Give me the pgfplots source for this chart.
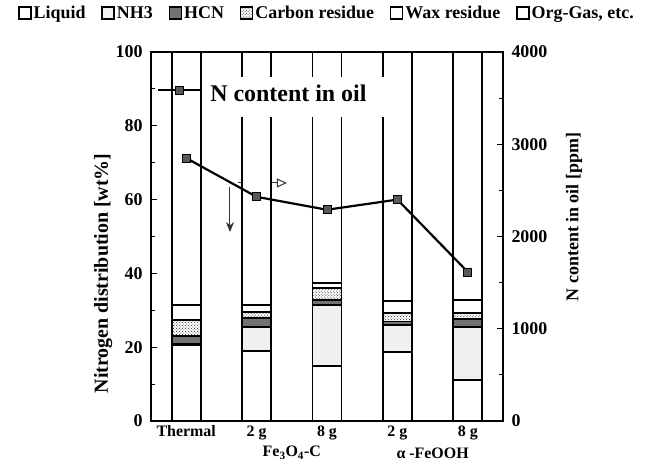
\documentclass[border=0pt]{standalone}
\usepackage{fontspec}
\setmainfont{Liberation Serif}
\usepackage{pgfplots}
\usepackage{pgfplotstable}
\pgfplotsset{compat=1.18}
\usetikzlibrary{patterns,arrows.meta,calc}

\pgfplotstableread{
x liquid nh3 hcn carbon wax org
0 20.6 0.4 2.0 4.4 4.0 68.6
1 19.0 6.5 2.5 1.5 2.0 68.5
2 14.9 16.5 1.4 3.2 1.4 62.6
3 18.7 7.3 1.0 2.3 3.3 67.4
4 11.1 14.4 2.1 1.7 3.5 67.2
}\dist

\pgfplotstableread{
x ppm
0 2850
1 2430
2 2290
3 2400
4 1615
}\ncont

\pgfplotsset{
  mybar/.style={draw=black, line width=1.7bp,
    legend image code/.code={\draw[##1,line width=1.4bp] (0bp,-6bp) rectangle (12bp,6bp);}},
}

\begin{document}
\begin{tikzpicture}
\begin{axis}[
  at={(0,0)}, anchor=south west,
  scale only axis, width=352bp, height=369bp,
  xmin=-0.5, xmax=4.5, ymin=0, ymax=100,
  clip=false,
  ybar stacked, bar width=29bp,
  xtick={0,1,2,3,4}, xticklabels={Thermal,2 g,8 g,2 g,8 g},
  xtick style={draw=none},
  ytick={0,20,40,60,80,100}, minor ytick={10,30,50,70,90},
  ytick pos=left, tick align=inside,
  major tick length=6bp, minor tick length=4bp,
  every tick/.style={black, line width=1.2bp},
  axis line style={line width=1.8bp},
  /pgf/number format/assume math mode=true,
  ticklabel style={font=\bfseries\fontsize{18}{20}\selectfont},
  xticklabel style={font=\bfseries\fontsize{16}{18}\selectfont, yshift=-1bp},
  yticklabel style={xshift=-5bp},
  ylabel={Nitrogen distribution [wt\%]},
  ylabel style={font=\bfseries\fontsize{20}{22}\selectfont, at={(axis description cs:-0.136,0.40)}, anchor=center, rotate=0},
  legend style={at={(0.5,1.106)}, anchor=center, draw=none, fill=none,
    font=\bfseries\fontsize{18}{20}\selectfont, inner sep=0pt,
    /tikz/every even column/.append style={column sep=14bp}},
  legend columns=6,
]
\addplot[mybar, fill=white] table[x=x,y=liquid]{\dist};
\addlegendentry{Liquid}
\addplot[mybar, fill=black!6] table[x=x,y=nh3]{\dist};
\addlegendentry{NH3}
\addplot[mybar, fill=black!55] table[x=x,y=hcn]{\dist};
\addlegendentry{HCN}
\addplot[mybar, fill=white, postaction={pattern=crosshatch dots, pattern color=black!85}] table[x=x,y=carbon]{\dist};
\addlegendentry{Carbon residue}
\addplot[mybar, fill=white] table[x=x,y=wax]{\dist};
\addlegendentry{Wax residue}
\addplot[mybar, fill=white] table[x=x,y=org]{\dist};
\addlegendentry{Org-Gas, etc.}
\draw[-{Triangle[open,length=10bp,width=9bp]}, line width=1bp, black!80] (axis cs:0.736,64.5) -- (axis cs:1.43,64.5);
\draw[-{Stealth[length=10bp,width=8bp]}, line width=1bp, black!80] (axis cs:0.622,63.4) -- (axis cs:0.622,51.2);
\node[font=\bfseries\fontsize{16}{18}\selectfont] at (axis cs:1.5,0) [yshift=-32bp] {Fe\textsubscript{3}O\textsubscript{4}-C};
\node[font=\bfseries\fontsize{16}{18}\selectfont] at (axis cs:3.5,0) [yshift=-32bp] {α -FeOOH};
\end{axis}
\begin{axis}[
  at={(0,0)}, anchor=south west,
  scale only axis, width=352bp, height=369bp,
  xmin=-0.5, xmax=4.5, ymin=0, ymax=4000,
  axis x line=none, axis y line*=right,
  ytick={0,1000,2000,3000,4000}, minor ytick={500,1500,2500,3500},
  tick align=inside,
  major tick length=6bp, minor tick length=4bp,
  every tick/.style={black, line width=1.2bp},
  axis line style={line width=1.8bp},
  /pgf/number format/assume math mode=true,
  /pgf/number format/1000 sep={},
  scaled y ticks=false,
  ticklabel style={font=\bfseries\fontsize{18}{20}\selectfont},
  yticklabel style={xshift=5bp},
  ylabel={N content in oil [ppm]},
  ylabel style={font=\bfseries\fontsize{18}{20}\selectfont, at={(axis description cs:1.202,0.553)}, anchor=center, rotate=0},
  legend style={at={(0.017,0.897)}, anchor=west, draw=none, fill=none, inner sep=0pt,
    font=\bfseries\fontsize{24}{26}\selectfont},
  legend image code/.code={\draw[mark repeat=2,mark phase=2] plot coordinates {(0bp,0bp) (21.5bp,0bp) (43bp,0bp)};},
]
\coordinate (BL) at (rel axis cs:0,0);
\coordinate (TR) at (rel axis cs:1,1);
\addplot[black, line width=2.2bp, mark=square*, mark size=4bp, mark options={fill=black!65, draw=black, line width=1bp}] table[x=x,y=ppm]{\ncont};
\addlegendentry{{\fboxsep=0pt\colorbox{white}{\hspace{6bp}\rule[-16bp]{0pt}{40bp}N content in oil\hspace{40bp}}}}
\end{axis}
\pgfresetboundingbox
\path[use as bounding box] ($(BL)+(-151bp,-42bp)$) rectangle ($(TR)+(150bp,52bp)$);
\end{tikzpicture}
\end{document}
